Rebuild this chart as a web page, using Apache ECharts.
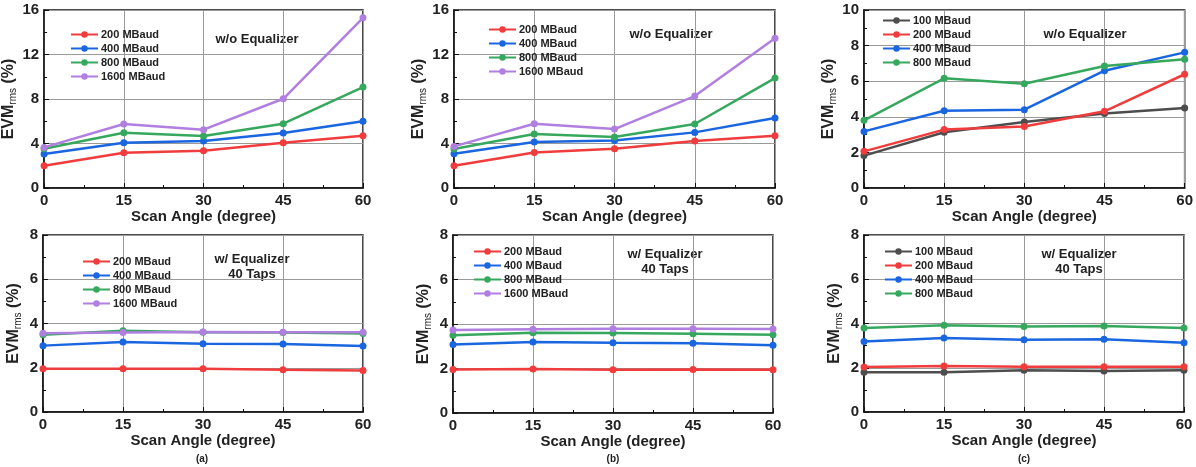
<!DOCTYPE html>
<html><head><meta charset="utf-8">
<script src="https://cdn.jsdelivr.net/npm/echarts@6/dist/echarts.min.js"></script>
<style>html,body{margin:0;padding:0;background:#fff}#c{width:1196px;height:467px}</style>
</head><body><div id="c"></div>
<script>
const angles = [0, 15, 30, 45, 60];
const xTicks = [0, 15, 30, 45, 60];
// Top row: without equalizer
const a_top_200 = [2.0, 3.17, 3.35, 4.07, 4.7];
const a_top_400 = [3.05, 4.07, 4.22, 4.94, 5.99];
const a_top_800 = [3.53, 4.97, 4.67, 5.78, 9.07];
const a_top_1600 = [3.65, 5.75, 5.24, 8.02, 15.3];
const b_top_200 = [2.0, 3.2, 3.53, 4.22, 4.7];
const b_top_400 = [3.08, 4.13, 4.28, 5.0, 6.29];
const b_top_800 = [3.5, 4.85, 4.58, 5.75, 9.88];
const b_top_1600 = [3.74, 5.78, 5.3, 8.26, 13.47];
const c_top_100 = [1.82, 3.13, 3.71, 4.18, 4.49];
const c_top_200 = [2.06, 3.28, 3.45, 4.31, 6.39];
const c_top_400 = [3.18, 4.34, 4.4, 6.59, 7.62];
const c_top_800 = [3.8, 6.16, 5.86, 6.85, 7.23];
// Bottom row: with equalizer 40 taps
const a_bot_200 = [1.95, 1.95, 1.95, 1.91, 1.88];
const a_bot_400 = [3.0, 3.16, 3.08, 3.07, 2.98];
const a_bot_800 = [3.49, 3.67, 3.61, 3.59, 3.55];
const a_bot_1600 = [3.56, 3.59, 3.62, 3.61, 3.61];
const b_bot_200 = [1.95, 1.98, 1.94, 1.95, 1.94];
const b_bot_400 = [3.08, 3.19, 3.16, 3.14, 3.04];
const b_bot_800 = [3.49, 3.61, 3.59, 3.56, 3.52];
const b_bot_1600 = [3.73, 3.76, 3.79, 3.79, 3.77];
const c_bot_100 = [1.8, 1.8, 1.89, 1.85, 1.89];
const c_bot_200 = [2.03, 2.08, 2.05, 2.05, 2.05];
const c_bot_400 = [3.19, 3.34, 3.26, 3.29, 3.13];
const c_bot_800 = [3.8, 3.92, 3.86, 3.89, 3.8];

const names = {n100:'100 MBaud', n200:'200 MBaud', n400:'400 MBaud', n800:'800 MBaud', n1600:'1600 MBaud'};
const colors = {'100 MBaud':'#4d4d4d','200 MBaud':'#f03c3c','400 MBaud':'#1a66e0','800 MBaud':'#36a85e','1600 MBaud':'#b07fe0'};

const FONT = 'Liberation Sans, Arial, sans-serif';
const grids = [
  {left:42, top:10, width:321, height:178},
  {left:454, top:10, width:321, height:178},
  {left:864, top:10, width:321, height:178},
  {left:43, top:235, width:320, height:177},
  {left:453, top:235, width:320, height:178},
  {left:864, top:235, width:320, height:177}
];
const yMax = [16, 16, 10, 8, 8, 8];
const yInt = [4, 4, 2, 2, 2, 2];

const panels = [
  [[names.n200,a_top_200],[names.n400,a_top_400],[names.n800,a_top_800],[names.n1600,a_top_1600]],
  [[names.n200,b_top_200],[names.n400,b_top_400],[names.n800,b_top_800],[names.n1600,b_top_1600]],
  [[names.n100,c_top_100],[names.n200,c_top_200],[names.n400,c_top_400],[names.n800,c_top_800]],
  [[names.n200,a_bot_200],[names.n400,a_bot_400],[names.n800,a_bot_800],[names.n1600,a_bot_1600]],
  [[names.n200,b_bot_200],[names.n400,b_bot_400],[names.n800,b_bot_800],[names.n1600,b_bot_1600]],
  [[names.n100,c_bot_100],[names.n200,c_bot_200],[names.n400,c_bot_400],[names.n800,c_bot_800]]
];
const legendPos = [
  {left:70, top:29}, {left:488, top:24}, {left:882, top:15},
  {left:82, top:256}, {left:473, top:246}, {left:884, top:246}
];

const option = {
  animation:false,
  backgroundColor:'#fff',
  grid: grids.map(g => Object.assign({show:true, borderColor:'#111', borderWidth:1.5, backgroundColor:'transparent'}, g)),
  xAxis: grids.map((g,i) => ({
    gridIndex:i, type:'value', min:0, max:60, interval:15,
    name:'Scan Angle (degree)', nameLocation:'middle', nameGap:20,
    nameTextStyle:{fontFamily:FONT, fontWeight:'bold', fontSize:15, color:'#222'},
    axisLine:{show:true, onZero:false, lineStyle:{color:'#111', width:1.5}},
    axisTick:{show:true, inside:true, length:5, lineStyle:{color:'#111'}},
    minorTick:{show:true, splitNumber:2, length:3, lineStyle:{color:'#111'}},
    splitLine:{show:true, lineStyle:{color:'#9a9a9a', width:1}},
    axisLabel:{fontFamily:FONT, fontWeight:'bold', fontSize:15, color:'#222', margin:5,
      formatter: v => xTicks.includes(v) ? String(v) : ''}
  })),
  yAxis: grids.map((g,i) => ({
    gridIndex:i, type:'value', min:0, max:yMax[i], interval:yInt[i],
    name:'{b|EVM}{s|rms}{b| (%)}', nameLocation:'middle', nameGap:20, nameRotate:90,
    nameTextStyle:{rich:{
      b:{fontFamily:FONT, fontWeight:'bold', fontSize:16, color:'#222', lineHeight:19, verticalAlign:'middle'},
      s:{fontFamily:FONT, fontSize:10, color:'#222', lineHeight:19, verticalAlign:'bottom', padding:[6,0,0,0]}
    }},
    axisLine:{show:true, onZero:false, lineStyle:{color:'#111', width:1.5}},
    axisTick:{show:true, inside:true, length:5, lineStyle:{color:'#111'}},
    minorTick:{show:true, splitNumber:2, length:3, lineStyle:{color:'#111'}},
    splitLine:{show:true, lineStyle:{color:'#9a9a9a', width:1}},
    axisLabel:{fontFamily:FONT, fontWeight:'bold', fontSize:15, color:'#222', margin:5}
  })),
  legend: panels.map((p,i) => ({
    data:p.map(s => s[0]), orient:'vertical', left:legendPos[i].left, top:legendPos[i].top,
    itemWidth:27, itemHeight:8, itemGap:3, selectedMode:false, padding:0,
    textStyle:{fontFamily:FONT, fontWeight:'bold', fontSize:11, color:'#222', padding:[0,0,0,-2]}
  })),
  series: [],
  graphic: []
};
panels.forEach((p,i) => {
  p.forEach(([name, vals]) => {
    option.series.push({
      type:'line', name, xAxisIndex:i, yAxisIndex:i,
      data: angles.map((a,k) => [a, vals[k]]),
      symbol:'circle', symbolSize:7, clip:false,
      lineStyle:{width:2.5, color:colors[name]}, itemStyle:{color:colors[name]}
    });
  });
});
const addCenter = (cx, y, t, size) => {
  option.graphic.push({type:'text', x:cx, y:y, style:{text:t, fontFamily:FONT, fontWeight:'bold', fontSize:size, fill:'#222', align:'center', verticalAlign:'middle'}});
};
addCenter(257, 39, 'w/o Equalizer', 13);
addCenter(671, 34, 'w/o Equalizer', 13);
addCenter(1085, 34, 'w/o Equalizer', 13);
addCenter(252, 259, 'w/ Equalizer', 13);
addCenter(252, 274, '40 Taps', 13);
addCenter(665, 254, 'w/ Equalizer', 13);
addCenter(665, 269, '40 Taps', 13);
addCenter(1079, 254, 'w/ Equalizer', 13);
addCenter(1079, 269, '40 Taps', 13);
addCenter(202, 459, '(a)', 10);
addCenter(613, 459, '(b)', 10);
addCenter(1024, 459, '(c)', 10);

echarts.init(document.getElementById('c')).setOption(option);
</script></body></html>
